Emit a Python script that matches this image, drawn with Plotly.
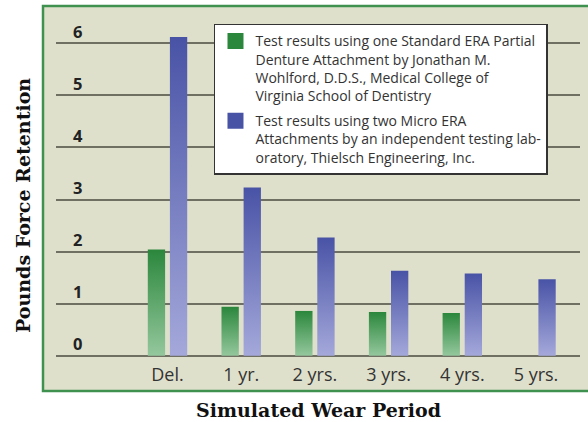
import plotly.graph_objects as go

categories = ["Del.", "1 yr.", "2 yrs.", "3 yrs.", "4 yrs.", "5 yrs."]
standard_era = [2.04, 0.94, 0.86, 0.84, 0.82, None]
micro_era = [6.12, 3.23, 2.27, 1.63, 1.58, 1.47]
y_ticks = [0, 1, 2, 3, 4, 5, 6]

name_standard = ("Test results using one Standard ERA Partial<br>"
                 "Denture Attachment by Jonathan M.<br>"
                 "Wohlford, D.D.S., Medical College of<br>"
                 "Virginia School of Dentistry")
name_micro = ("Test results using two Micro ERA<br>"
              "Attachments by an independent testing lab-<br>"
              "oratory, Thielsch Engineering, Inc.")

GREEN_DARK, GREEN_LIGHT = "#2b873c", "#94c79d"
BLUE_DARK, BLUE_LIGHT = "#4953a6", "#a4a8da"

BAR_W = 0.235
OFFSET = 0.15

fig = go.Figure()


def add_bar(center, value, dark, light, group):
    x0, x1 = center - BAR_W / 2, center + BAR_W / 2
    fig.add_trace(go.Scatter(
        x=[x0, x0, x1, x1, x0], y=[0, value, value, 0, 0],
        mode="lines", line=dict(width=0), fill="toself",
        fillgradient=dict(type="vertical", start=0, stop=value,
                          colorscale=[[0, light], [1, dark]]),
        showlegend=False, hoverinfo="skip", legendgroup=group))


for i, v in enumerate(standard_era):
    if v is not None:
        add_bar(i - OFFSET, v, GREEN_DARK, GREEN_LIGHT, "std")
for i, v in enumerate(micro_era):
    if v is not None:
        add_bar(i + OFFSET, v, BLUE_DARK, BLUE_LIGHT, "micro")

# legend entries
fig.add_trace(go.Scatter(x=[None], y=[None], mode="markers", name=name_standard,
                         marker=dict(symbol="square", size=16, color=GREEN_DARK),
                         legendgroup="std"))
fig.add_trace(go.Scatter(x=[None], y=[None], mode="markers", name=name_micro,
                         marker=dict(symbol="square", size=16, color=BLUE_DARK),
                         legendgroup="micro"))

TITLE_FONT = dict(family="DejaVu Serif", size=19, color="#111111", weight="bold")

fig.update_layout(
    width=588, height=422,
    margin=dict(l=56, r=8, t=17, b=64),
    paper_bgcolor="white",
    plot_bgcolor="rgba(0,0,0,0)",
    showlegend=True,
    legend=dict(x=0.3015, y=0.98, xanchor="left", yanchor="top",
                bgcolor="white", bordercolor="#333333", borderwidth=1.5,
                font=dict(family="Open Sans", size=14, color="#333333"),
                valign="top", tracegroupgap=4, traceorder="grouped"),
    xaxis=dict(range=[-1.513, 5.597], tickmode="array",
               tickvals=list(range(len(categories))), ticktext=categories,
               showgrid=False, zeroline=False, showline=False, ticks="",
               ticklabelstandoff=4,
               tickfont=dict(family="Open Sans", size=18, color="#333333"),
               fixedrange=True),
    yaxis=dict(range=[-0.044, 6.505], tickmode="array", tickvals=y_ticks,
               ticktext=[str(t) for t in y_ticks],
               showgrid=True, gridcolor="#6f6f62", gridwidth=2,
               zeroline=False, showline=False, ticks="",
               ticklabelposition="inside top", ticklabelstandoff=14,
               tickfont=dict(family="Open Sans", size=16.5, color="#222222", weight="bold"),
               fixedrange=True),
    shapes=[dict(type="rect", xref="paper", yref="paper",
                 x0=-0.0248, x1=1.05, y0=-0.0968, y1=1.0323,
                 fillcolor="#dfe0cb", line=dict(color="#3f9150", width=2.5),
                 layer="below")],
    annotations=[
        dict(text="Simulated Wear Period", xref="paper", yref="paper",
             x=0.5, y=-0.1525, xanchor="center", yanchor="middle",
             showarrow=False, font=TITLE_FONT),
        dict(text="Pounds Force Retention", xref="paper", yref="paper",
             x=-0.063, y=0.4487, xanchor="center", yanchor="middle",
             textangle=-90, showarrow=False, font=TITLE_FONT),
    ],
)

fig.write_html("out.html", config={"displayModeBar": False},
               post_script="document.body.style.margin='0';")
